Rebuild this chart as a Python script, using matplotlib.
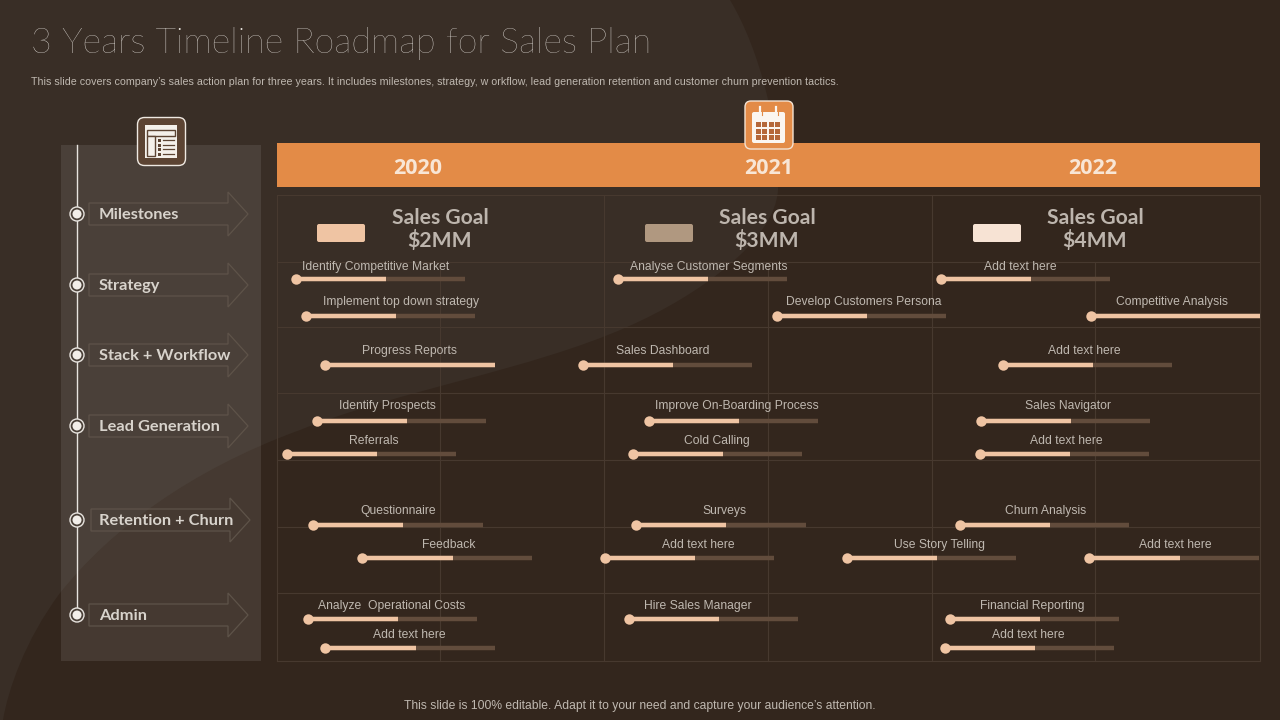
import matplotlib
matplotlib.use('Agg')
import matplotlib.pyplot as plt
from matplotlib.patches import Rectangle, FancyBboxPatch, PathPatch, Polygon, Circle
from matplotlib.path import Path

BG = '#33261d'
SWOOSH = '#392e26'
ORANGE = '#e38b47'
PEACH = '#efc4a3'
TRACK = '#624c3c'
GRID = '#47392f'
TXT = '#bfb8b0'
ICON = '#5c4433'

years = ['2020', '2021', '2022']
year_x = [418, 769, 1093]
goals = ['Sales Goal\n$2MM', 'Sales Goal\n$3MM', 'Sales Goal\n$4MM']
goal_x = [440, 767, 1095]
swatch_x = [317, 645, 973]
swatch_colors = ['#efc4a3', '#b09880', '#f7e3d4']

rows = ['Milestones', 'Strategy', 'Stack + Workflow', 'Lead Generation', 'Retention + Churn', 'Admin']
row_y = [214, 285, 355, 426, 520, 615]

tasks = ['Identify Competitive Market', 'Implement top down strategy', 'Progress Reports',
         'Sales Dashboard', 'Analyse Customer Segments', 'Develop Customers Persona',
         'Add text here', 'Competitive Analysis', 'Add text here',
         'Identify Prospects', 'Referrals', 'Improve On-Boarding Process', 'Cold Calling',
         'Sales Navigator', 'Add text here', 'Questionnaire', 'Surveys', 'Churn Analysis',
         'Feedback', 'Add text here', 'Use Story Telling', 'Add text here',
         'Analyze  Operational Costs', 'Add text here', 'Hire Sales Manager',
         'Financial Reporting', 'Add text here']
task_start = [296, 306, 325, 583, 618, 777, 941, 1091, 1003, 317, 287, 649, 633, 981, 980,
              313, 636, 960, 362, 605, 847, 1089, 308, 325, 629, 950, 945]
task_mid = [386, 396, 495, 673, 708, 867, 1031, 1260, 1093, 407, 377, 739, 723, 1071, 1070,
            403, 726, 1050, 453, 695, 937, 1180, 398, 416, 719, 1040, 1035]
task_end = [465, 475, 495, 752, 787, 946, 1110, 1260, 1172, 486, 456, 818, 802, 1150, 1149,
            483, 806, 1129, 532, 774, 1016, 1259, 477, 495, 798, 1119, 1114]
task_y = [279, 316, 365, 365, 279, 316, 279, 316, 365, 421, 454, 421, 454, 421, 454,
          525, 525, 525, 558, 558, 558, 558, 619, 648, 619, 619, 648]
label_x = [376, 401, 409, 663, 709, 864, 1020, 1172, 1084, 387, 374, 737, 717, 1068, 1066,
           398, 724, 1046, 449, 698, 940, 1175, 392, 409, 698, 1032, 1028]
label_y = [266, 301, 350, 350, 266, 301, 266, 301, 350, 405, 440, 405, 440, 405, 440,
           510, 510, 510, 544, 544, 544, 544, 605, 634, 605, 605, 634]

grid_h = [195, 262, 327, 393, 460, 527, 593, 661]
grid_v_main = [277, 604, 932, 1260]
grid_v_minor = [440, 768, 1095]

fig = plt.figure(figsize=(12.8, 7.2), dpi=100, facecolor=BG)
ax = fig.add_axes([0, 0, 1, 1])
ax.set_xlim(0, 1280)
ax.set_ylim(720, 0)
ax.axis('off')

# background swoosh
verts = [(0, 0), (730, 0),
         (760, 50), (780, 130), (778, 190),
         (775, 240), (700, 295), (627, 327),
         (530, 370), (400, 390), (300, 430),
         (190, 470), (110, 530), (60, 593),
         (25, 640), (8, 690), (3, 720),
         (0, 720), (0, 0)]
codes = [Path.MOVETO, Path.LINETO] + [Path.CURVE4] * 15 + [Path.LINETO, Path.CLOSEPOLY]
ax.add_patch(PathPatch(Path(verts, codes), fc=SWOOSH, ec='none', zorder=0))

# title
ax.text(31, 43, '3 Years Timeline Roadmap for Sales Plan', color='#ece8e3', fontsize=25.8,
        family='Lato', weight='light', va='center', ha='left')
ax.text(31, 82, "This slide covers company\u2019s sales action plan for three years. It includes milestones, strategy, w orkflow, lead generation retention and customer churn prevention tactics.",
        color=TXT, fontsize=7.62, family='Liberation Sans', va='center', ha='left')
ax.text(640, 705.5, "This slide is 100% editable. Adapt it to your need and capture your audience\u2019s attention.",
        color=TXT, fontsize=8.75, family='Liberation Sans', va='center', ha='center')

# left panel
ax.add_patch(Rectangle((61, 145), 200, 516, fc='#ffffff', alpha=0.09, ec='none', zorder=1))
ax.plot([77, 77], [145, 614], color='#e8e4df', lw=1, zorder=2)

for name, y in zip(rows, row_y):
    x0 = 91 if name.startswith('Retention') else 89
    pts = [(x0, y - 11), (x0 + 139, y - 11), (x0 + 139, y - 22), (x0 + 159, y),
           (x0 + 139, y + 22), (x0 + 139, y + 11), (x0, y + 11)]
    ax.add_patch(Polygon(pts, closed=True, fc='none', ec='#5e5349', lw=0.9, zorder=2))
    ax.add_patch(Circle((77, y), 7, fc='#4a4038', ec='#e8e4df', lw=1, zorder=3))
    ax.add_patch(Circle((77, y), 4.5, fc='#f2eee9', ec='none', zorder=4))
    ax.text(99, y + 1, name, color='#d8d3cc', fontsize=11.8, family='Lato', weight='bold',
            va='center', ha='left', zorder=4)

# list icon
ax.add_patch(FancyBboxPatch((137.5, 117.5), 48, 48, boxstyle='round,pad=0,rounding_size=7', fc=ICON, ec='#efe9e2', lw=1, zorder=5))
ax.add_patch(Rectangle((145, 125), 32, 33, fc='#f4f0ea', ec='none', zorder=6))
ax.add_patch(Rectangle((147, 130), 28, 6, fc='#f4f0ea', ec=ICON, lw=1, zorder=7))
ax.add_patch(Rectangle((147, 136), 8, 20, fc='#f4f0ea', ec=ICON, lw=1, zorder=7))
for yy in [140, 145, 149, 154]:
    ax.add_patch(Rectangle((158, yy - 1.5), 3, 3, fc=ICON, ec='none', zorder=7))
    ax.plot([163, 174], [yy, yy], color=ICON, lw=0.9, zorder=7)

# year band
ax.add_patch(Rectangle((277, 143), 983, 44, fc=ORANGE, ec='none', zorder=1))
for yr, x in zip(years, year_x):
    ax.text(x, 168, yr, color='#f8e6d6', fontsize=15.5, family='Open Sans', weight='bold', va='center', ha='center', zorder=3)

# calendar icon
ax.add_patch(FancyBboxPatch((745, 101), 48, 48, boxstyle='round,pad=0,rounding_size=6', fc=ORANGE, ec='#f3e2d2', lw=1, zorder=5))
ax.add_patch(FancyBboxPatch((752, 112), 33, 31, boxstyle='round,pad=0,rounding_size=2', fc='#fbf6f0', ec='none', zorder=6))
for x in [760, 776]:
    ax.plot([x, x], [107, 115], color='#fbf6f0', lw=1.6, zorder=7)
    ax.plot([x + 1.5, x + 1.5], [112, 115], color=ORANGE, lw=0.8, zorder=8)
for yy in [122, 128.5, 135]:
    for x in [755.5, 762, 768.5, 775]:
        ax.add_patch(Rectangle((x, yy), 5, 5, fc='#b5683a', ec='none', zorder=7))

# grid
for y in grid_h:
    ax.plot([277, 1260], [y, y], color=GRID, lw=0.8, zorder=1)
for x in grid_v_main:
    ax.plot([x, x], [195, 661], color=GRID, lw=0.8, zorder=1)
for x in grid_v_minor:
    ax.plot([x, x], [262, 661], color=GRID, lw=0.8, zorder=1)

# sales goals
for g, x in zip(goals, goal_x):
    ax.text(x, 229.5, g, color='#bdb5ad', fontsize=15.2, family='Lato', weight='bold', va='center', ha='center',
            linespacing=1.08, zorder=3)
for x, c in zip(swatch_x, swatch_colors):
    ax.add_patch(FancyBboxPatch((x, 224), 48, 18, boxstyle='round,pad=0,rounding_size=2', fc=c, ec='none', zorder=3))

# task bars
for name, x0, xm, x1, y, lx, ly in zip(tasks, task_start, task_mid, task_end, task_y, label_x, label_y):
    ax.plot([x0, x1], [y, y], color=TRACK, lw=3.2, solid_capstyle='butt', zorder=3)
    ax.plot([x0, xm], [y, y], color=PEACH, lw=3.2, solid_capstyle='butt', zorder=4)
    ax.plot([x0], [y], 'o', color=PEACH, ms=7.5, mew=0, zorder=5)
    ax.text(lx, ly + 1.2, name, color=TXT, fontsize=8.7, family='Liberation Sans', va='center', ha='center', zorder=5)

fig.savefig('out.png', dpi=100, facecolor=BG)
